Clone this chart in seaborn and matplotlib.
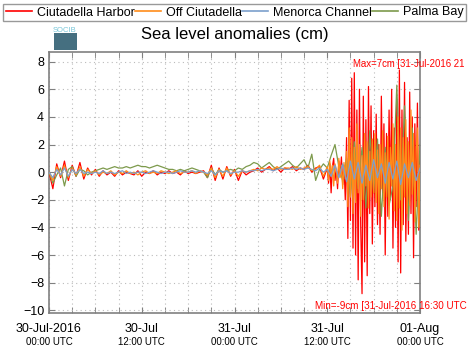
import seaborn as sns
import matplotlib.pyplot as plt
import matplotlib.dates as mdates
from matplotlib.patches import Rectangle
import pandas as pd

# time grids of the stations (half-hourly quiet part, 10-min during the seiche)
quiet_times = pd.date_range("2016-07-30 00:00", "2016-07-31 11:30", freq="30min")
seiche_times = pd.date_range("2016-07-31 12:00", "2016-08-01 00:00", freq="10min")
half_hour_times = pd.date_range("2016-07-30 00:00", "2016-08-01 00:00", freq="30min")

stations = ["Ciutadella Harbor", "Off Ciutadella", "Menorca Channel", "Palma Bay"]
colors = ["#ff0000", "#ff8c1a", "#7b9fcc", "#7d9a4c"]

# sea level anomalies (cm)
harbor = [0.0, -1.2, 0.6, -0.4, 0.8, -0.6, 0.5, -0.3, 0.7, -0.5, 0.3,
          -0.2, 0.2, -0.3, 0.1, -0.2, 0.0, -0.3, 0.1, -0.2, 0.0, -0.1, -0.2, 0.1, -0.3, 0.0,
          -0.1, 0.1, -0.2, 0.0, -0.1, 0.1, -0.1, 0.0, -0.2, 0.1, -0.1, 0.0, -0.1, 0.0, 0.1,
          -0.4, 0.5, -0.6, 0.3, -0.5, 0.4, -0.3, 0.2, -0.6, 0.1, -0.2, 0.0,
          0.1, 0.3, 0.0, 0.2, 0.4, 0.1, 0.3, 0.0, 0.3, 0.2, 0.4, 0.1, 0.3, 0.2, 0.5, 0.0, 0.3, 0.4, -0.5,
          0.3, -0.8, 0.6, -1.5, 0.4, 1.0, -0.6, 0.2, -1.2, 0.8, -0.3, 1.1, -0.9, 0.5, -2.0,
          2.5, -4.8, 5.2, -3.5, 6.8, -5.5, 7.2, -6.0, 4.5, -7.8, 6.0, -4.0, -8.8, 5.5, -6.5, 3.8,
          -7.5, 6.2, -3.0, 4.8, -5.2,
          3.0, -2.5, 4.2, -3.8, 2.0, -4.5, 5.5, -1.5, 3.5, -6.0, 2.8, -3.2, 4.5, -2.0, 6.0, -5.5, 3.2, -4.0,
          5.0, -6.5, 7.4, -7.3, 4.5, -3.8, 6.5, -5.0, 2.5, -4.5, 5.8, -3.0, 4.0, -6.2, 3.5, -2.5, 5.0, -4.2, 1.5]
off_ciutadella = [0.0, -0.6, 0.4, -0.3, 0.5, -0.4, 0.3, -0.2, 0.4, -0.3, 0.2,
                  -0.1, 0.1, -0.2, 0.0, -0.1, 0.1, -0.2, 0.0, -0.1, 0.1, -0.1, 0.0, -0.2, 0.0, 0.1,
                  -0.1, 0.0, -0.1, 0.1, 0.0, -0.1, 0.0, 0.1, -0.1, 0.0, 0.0, 0.1, -0.1, 0.1, 0.0,
                  -0.2, 0.3, -0.4, 0.2, -0.3, 0.3, -0.2, 0.1, -0.3, 0.1, 0.0, 0.1,
                  0.2, 0.1, 0.3, 0.2, 0.3, 0.2, 0.4, 0.2, 0.3, 0.3, 0.2, 0.4, 0.2, 0.3, 0.4, 0.1, 0.2, 0.5, -0.3,
                  0.4, -0.6, 0.8, -0.3, 0.5, -1.0, 0.6, 0.2, -0.8, 1.0, -0.4, 0.5, -1.2, 0.7, -0.5,
                  1.5, -2.5, 3.2, -1.8, 2.5, -3.0, 1.8, -2.2, 3.5, -1.5, 2.0, -3.2, 1.2, -2.0, 2.8, -1.0,
                  2.2, -2.6, 1.5, -1.8, 2.4,
                  -1.5, 2.8, -2.2, 1.6, -3.0, 2.0, -1.2, 3.0, -2.5, 1.4, -1.8, 2.6, -3.4, 1.8, -1.0, 3.5, -2.8, 2.0,
                  -3.5, 4.0, -2.6, 3.2, -4.2, 2.5, -1.8, 3.8, -3.0, 2.2, -2.4, 4.5, -1.6, 2.8, -3.6, 1.5, 3.2, -4.0, 0.5]
menorca_channel = [0.0, -0.4, 0.2, -0.2, 0.3, -0.3, 0.2, -0.1, 0.2, -0.1, 0.0,
                   -0.1, 0.0, -0.1, 0.1, -0.1, 0.0, -0.1, 0.0, 0.1, -0.1, 0.0, -0.1, 0.0, 0.0, -0.1,
                   0.0, 0.1, 0.0, -0.1, 0.0, 0.0, -0.1, 0.0, 0.1, 0.0, 0.0, 0.1, 0.0, 0.1, 0.0,
                   -0.1, 0.1, -0.2, 0.1, 0.0, 0.1, -0.1, 0.0, 0.0, 0.1, 0.0, 0.1,
                   0.1, 0.2, 0.1, 0.2, 0.2, 0.1, 0.2, 0.3, 0.2, 0.2, 0.3, 0.2, 0.3, 0.2, 0.3, 0.2, 0.1, 0.3, 0.0,
                   0.2, -0.3, 0.5, -0.4, 0.6, -0.7, 0.8, -0.5, 0.7, -0.8, 0.5, -0.6, 0.9, -0.4, 0.6, -0.8,
                   0.7, -0.5, 0.8, -0.9, 0.6, -0.4, 0.7, -0.6, 0.3]
palma_bay = [0.0, -0.8, -0.2, 0.3, -1.0, 0.2, 0.4, -0.3, 0.2, 0.1, -0.2,
             0.0, 0.1, 0.2, 0.3, 0.2, 0.3, 0.4, 0.3, 0.3, 0.4, 0.3, 0.4, 0.5, 0.4, 0.4,
             0.3, 0.4, 0.5, 0.4, 0.3, 0.2, 0.2, 0.1, 0.2, 0.1, 0.2, 0.3, 0.2, 0.1, 0.0,
             -0.4, 0.3, -0.2, 0.2, 0.0, 0.1, 0.2, 0.1, 0.3, 0.2, 0.4, 0.5,
             0.7, 0.6, 0.3, 0.5, 0.7, 0.4, 0.2, 0.4, 0.6, 0.8, 0.5, 0.3, 0.6, 0.9, 0.3, 1.3, -0.6, 0.2, 0.6,
             0.3, 1.2, 2.0, 0.4, -0.6, 1.0, -1.8, 2.2, -1.2, 1.8, -2.6, 3.0, -1.5, 2.4, -3.2, 1.8,
             -2.4, -1.0, 6.3, -2.0, 4.8, -3.5, 3.2, -4.5, 2.0]

tick_dates = pd.date_range("2016-07-30 00:00", "2016-08-01 00:00", freq="12h")
tick_days = ["30-Jul-2016", "30-Jul", "31-Jul", "31-Jul", "01-Aug"]
tick_hours = ["00:00 UTC", "12:00 UTC", "00:00 UTC", "12:00 UTC", "00:00 UTC"]

full_times = quiet_times.append(seiche_times)
df = pd.concat([
    pd.DataFrame({"time": full_times, "sla": harbor, "station": stations[0]}),
    pd.DataFrame({"time": full_times, "sla": off_ciutadella, "station": stations[1]}),
    pd.DataFrame({"time": half_hour_times, "sla": menorca_channel, "station": stations[2]}),
    pd.DataFrame({"time": half_hour_times, "sla": palma_bay, "station": stations[3]}),
])

plt.rcParams["font.family"] = ["Liberation Sans", "DejaVu Sans"]
fig = plt.figure(figsize=(4.68, 3.53), dpi=100)
ax = fig.add_axes([49 / 468, 1 - 313 / 353, 371 / 468, 261 / 353])

palette = dict(zip(stations, colors))
draw_order = [stations[0], stations[3], stations[1], stations[2]]
for z, st in enumerate(draw_order):
    sns.lineplot(data=df[df["station"] == st], x="time", y="sla", color=palette[st],
                 linewidth=0.9, ax=ax, zorder=3 + z, legend=False)

ax.set_xlim(tick_dates[0], tick_dates[-1])
ax.set_ylim(-10.2, 8.7)
ax.set_yticks(range(-10, 9, 2))
ax.set_xticks(tick_dates)
ax.set_xticklabels(tick_days, fontsize=9)
ax.xaxis.set_minor_locator(mdates.HourLocator(byhour=range(0, 24, 3)))
ax.tick_params(axis="y", labelsize=9, direction="in", right=True, length=4, color="#808080")
ax.tick_params(axis="x", which="both", direction="in", top=True, length=4, color="#808080", pad=7)
ax.grid(True, which="both", color="#bbbbbb", linestyle=(0, (1, 3)), linewidth=0.8)
ax.set_xlabel("")
ax.set_ylabel("")
for spine in ax.spines.values():
    spine.set_color("#808080")
    spine.set_linewidth(1.2)

for d, h in zip(tick_dates, tick_hours):
    ax.text(d, -0.093, h, transform=ax.get_xaxis_transform(), ha="center", va="top", fontsize=7)

ax.set_title("Sea level anomalies (cm)", fontsize=12, pad=9)

# extreme labels, cut by the right edge as in the original
ax.text(353 / 468, 1 - 67 / 353, "Max=7cm [31-Jul-2016 21", transform=fig.transFigure,
        color="red", fontsize=6.9, clip_on=False)
ax.text(315 / 468, 1 - 309 / 353, "Min=-9cm [31-Jul-2016 16:30 UTC", transform=fig.transFigure,
        color="red", fontsize=7.1, clip_on=False, zorder=20)

# SOCIB logo
fig.text(65 / 468, 1 - 32 / 353, "SOCIB", fontsize=5.5, color="#78c6d8", ha="center")
fig.patches.append(Rectangle((54 / 468, 1 - 50 / 353), 23 / 468, 17 / 353, transform=fig.transFigure,
                             facecolor="#456f80", edgecolor="none"))

handles = [plt.Line2D([], [], color=c, linewidth=1.2) for c in colors]
fig.legend(handles, stations, loc="lower left", ncol=4, mode="expand",
           bbox_to_anchor=(3 / 468, 1 - 21 / 353, 463 / 468, 19 / 353), fontsize=9,
           frameon=True, fancybox=False, edgecolor="#808080", handlelength=2.1,
           handletextpad=0.4, columnspacing=0.8, borderpad=0.2, borderaxespad=0)

fig.savefig("out.png", dpi=100)
